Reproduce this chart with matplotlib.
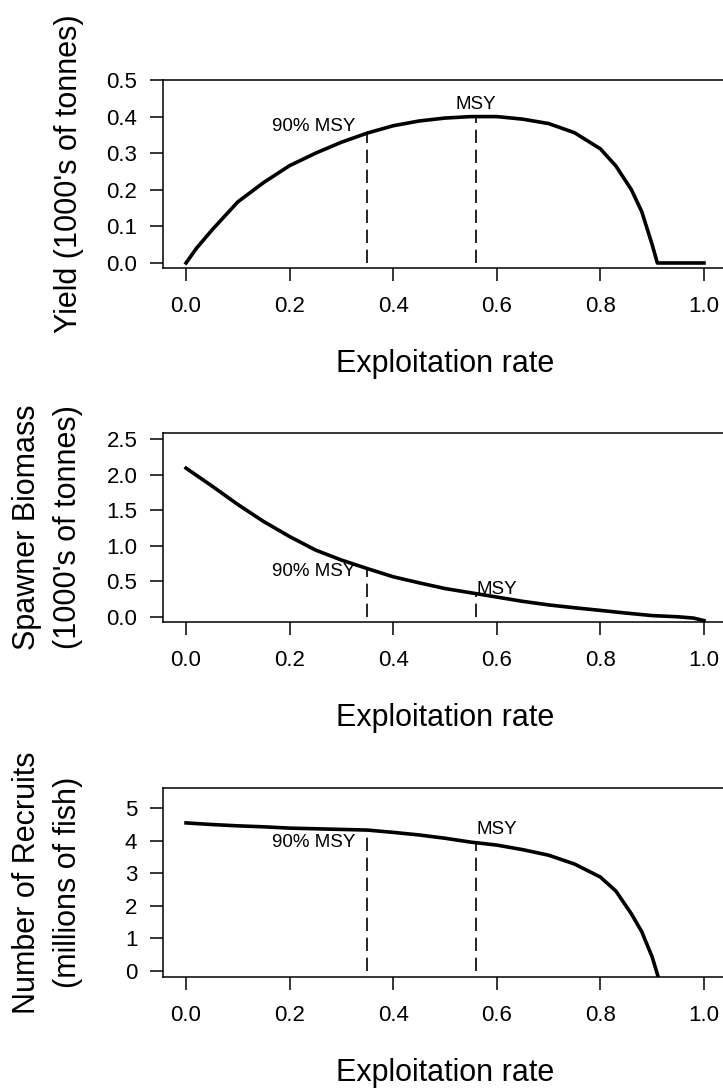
import matplotlib
matplotlib.use("Agg")
import matplotlib.pyplot as plt

plt.rcParams['font.family'] = ['Liberation Sans', 'DejaVu Sans']

# equilibrium yield vs exploitation rate
rate_yield = [0.0, 0.02, 0.05, 0.10, 0.15, 0.20, 0.25, 0.30, 0.35, 0.40, 0.45,
              0.50, 0.55, 0.60, 0.65, 0.70, 0.75, 0.80, 0.83, 0.86, 0.88, 0.90,
              0.91, 0.95, 1.0]
yield_kt = [0.0, 0.040, 0.090, 0.167, 0.220, 0.266, 0.300, 0.330, 0.355, 0.375,
            0.388, 0.396, 0.400, 0.400, 0.393, 0.381, 0.356, 0.312, 0.265,
            0.200, 0.140, 0.050, 0.0, 0.0, 0.0]

# spawner biomass vs exploitation rate
rate_sb = [0.0, 0.02, 0.05, 0.10, 0.15, 0.20, 0.25, 0.30, 0.35, 0.40, 0.45,
           0.50, 0.55, 0.60, 0.65, 0.70, 0.75, 0.80, 0.85, 0.90, 0.95, 0.98, 1.0]
spawner_kt = [2.09, 1.99, 1.84, 1.58, 1.34, 1.13, 0.94, 0.80, 0.68, 0.565,
              0.48, 0.40, 0.34, 0.28, 0.22, 0.17, 0.13, 0.093, 0.055, 0.020,
              0.003, -0.015, -0.05]

# recruits vs exploitation rate
rate_rec = [0.0, 0.05, 0.10, 0.15, 0.20, 0.25, 0.30, 0.35, 0.40, 0.45, 0.50,
            0.55, 0.60, 0.65, 0.70, 0.75, 0.80, 0.83, 0.86, 0.88, 0.90, 0.912]
recruits_m = [4.54, 4.49, 4.45, 4.42, 4.38, 4.36, 4.34, 4.32, 4.25, 4.17, 4.07,
              3.95, 3.86, 3.72, 3.55, 3.28, 2.88, 2.45, 1.75, 1.20, 0.43, -0.20]

# reference exploitation rates and the curve values there
ref_rates = [0.35, 0.56]
ref_labels = ['90% MSY', 'MSY']
ref_yield = [0.355, 0.400]
ref_sb = [0.68, 0.33]
ref_rec = [4.32, 3.95]

fig = plt.figure(figsize=(7.23, 10.91), dpi=100)

W, H = 723.0, 1091.0
left_px, right_px = 163, 727
panels = [(80, 268), (433, 622), (788, 977)]  # top/bottom pixel rows


def make_ax(top, bottom):
    ax = fig.add_axes([left_px / W, 1 - bottom / H,
                       (right_px - left_px) / W, (bottom - top) / H])
    for s in ax.spines.values():
        s.set_linewidth(1.1)
    ax.tick_params(length=9.5, width=1.1, labelsize=16, direction='out')
    ax.tick_params(axis='x', pad=11)
    ax.tick_params(axis='y', pad=9)
    ax.set_xlim(-0.0445, 1.0445)
    ax.set_xticks([0, 0.2, 0.4, 0.6, 0.8, 1.0])
    ax.set_xticklabels(['0.0', '0.2', '0.4', '0.6', '0.8', '1.0'])
    ax.set_xlabel('Exploitation rate', fontsize=22, va='center')
    h = bottom - top
    ax.xaxis.set_label_coords(0.5, -96 / h)
    return ax


dash = (0, (8, 4))

# --- yield ---
ax1 = make_ax(*panels[0])
ax1.plot(rate_yield, yield_kt, color='black', lw=2.6)
for x, v in zip(ref_rates, ref_yield):
    ax1.plot([x, x], [0, v], color='black', lw=1.2, linestyle=dash)
ax1.text(0.327, 0.373, ref_labels[0], fontsize=13.5, ha='right', va='center')
ax1.text(0.56, 0.432, ref_labels[1], fontsize=13.5, ha='center', va='center')
ax1.set_ylim(-0.0137, 0.5)
ax1.set_yticks([0.0, 0.1, 0.2, 0.3, 0.4, 0.5])
ax1.set_yticklabels(['0.0', '0.1', '0.2', '0.3', '0.4', '0.5'])
ax1.set_ylabel("Yield (1000's of tonnes)", fontsize=22, va='center')
ax1.yaxis.set_label_coords(-94 / (right_px - left_px), 0.5)

# --- spawner biomass ---
ax2 = make_ax(*panels[1])
ax2.plot(rate_sb, spawner_kt, color='black', lw=2.6)
for x, v in zip(ref_rates, ref_sb):
    ax2.plot([x, x], [0, v], color='black', lw=1.2, linestyle=dash)
ax2.text(0.327, 0.636, ref_labels[0], fontsize=13.5, ha='right', va='center')
ax2.text(0.56, 0.38, ref_labels[1], fontsize=13.5, ha='left', va='center')
ax2.set_ylim(-0.07, 2.584)
ax2.set_yticks([0.0, 0.5, 1.0, 1.5, 2.0, 2.5])
ax2.set_yticklabels(['0.0', '0.5', '1.0', '1.5', '2.0', '2.5'])
ax2.set_ylabel("Spawner Biomass\n(1000's of tonnes)", fontsize=22,
               va='center', linespacing=1.45)
ax2.yaxis.set_label_coords(-115.5 / (right_px - left_px), 0.5)

# --- recruits ---
ax3 = make_ax(*panels[2])
ax3.plot(rate_rec, recruits_m, color='black', lw=2.6)
for x, v in zip(ref_rates, ref_rec):
    ax3.plot([x, x], [0, v], color='black', lw=1.2, linestyle=dash)
ax3.text(0.327, 3.93, ref_labels[0], fontsize=13.5, ha='right', va='center')
ax3.text(0.56, 4.33, ref_labels[1], fontsize=13.5, ha='left', va='center')
ax3.set_ylim(-0.184, 5.61)
ax3.set_yticks([0, 1, 2, 3, 4, 5])
ax3.set_ylabel("Number of Recruits\n(millions of fish)", fontsize=22,
               va='center', linespacing=1.45)
ax3.yaxis.set_label_coords(-115.5 / (right_px - left_px), 0.5)

fig.savefig('out.png', dpi=100)
